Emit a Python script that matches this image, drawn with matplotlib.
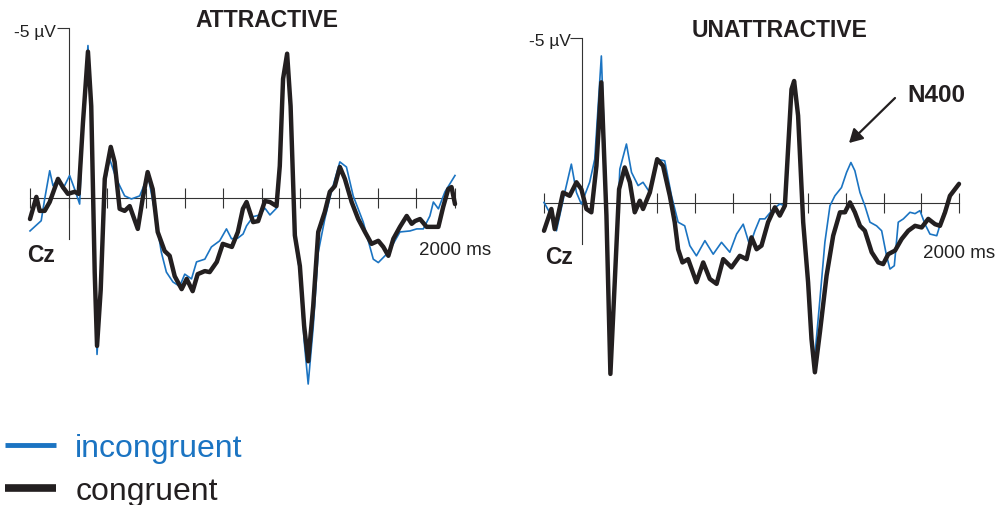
import matplotlib
matplotlib.use('Agg')
import matplotlib.pyplot as plt

plt.rcParams['font.family'] = ['Liberation Sans', 'DejaVu Sans']

W, H = 996, 506

# time (ms) and amplitude (uV, negative up)
att_con_t = [-200, -167, -150, -124, -98, -55, -30, -4, 31, 52, 74, 100, 117, 135, 147, 166, 187, 218, 238, 264,
             290, 316, 358, 383, 409, 435, 461, 497, 523, 549, 585, 611, 642, 668, 705, 730, 767, 798, 845, 876,
             902, 921, 955, 981, 1016, 1042, 1076, 1093, 1110, 1131, 1149, 1171, 1197, 1219, 1240, 1266, 1292, 1326, 1352, 1378,
             1404, 1430, 1465, 1499, 1534, 1568, 1603, 1629, 1655, 1681, 1715, 1750, 1776, 1793, 1819, 1853, 1914, 1939, 1965, 1982,
             2000]
att_con_v = [0.62, -0.03, 0.38, 0.38, 0.12, -0.56, -0.32, -0.12, -0.18, -0.12, -2.2, -4.3, -2.7, 2.2, 4.35, 2.7, -0.56, -1.5, -1.06, 0.32,
             0.38, 0.24, 0.91, 0.03, -0.76, -0.26, 1.0, 1.56, 1.7, 2.3, 2.68, 2.38, 2.74, 2.24, 2.15, 2.18, 1.88, 1.35, 1.44, 1.0,
             0.32, 0.12, 0.71, 0.68, 0.09, 0.12, 0.24, -0.94, -3.5, -4.24, -2.7, 1.1, 2.0, 3.76, 4.8, 3.18, 1.0, 0.41, -0.18, -0.35,
             -0.91, -0.56, 0.12, 0.62, 1.0, 1.35, 1.26, 1.44, 1.7, 1.2, 0.85, 0.53, 0.76, 0.68, 0.62, 0.85, 0.85, 0.26, -0.26, -0.32,
             0.18]

att_inc_t = [-200, -142, -124, -98, -81, -55, -30, 5, 31, 57, 74, 100, 117, 135, 147, 166, 187, 212, 247, 290,
             325, 368, 411, 446, 480, 506, 540, 575, 601, 636, 662, 705, 739, 782, 817, 843, 876, 903, 921, 955,
             990, 1016, 1042, 1076, 1093, 1110, 1131, 1149, 1171, 1197, 1219, 1240, 1266, 1292, 1326, 1360, 1404, 1438, 1473, 1525,
             1551, 1577, 1603, 1629, 1655, 1715, 1767, 1802, 1836, 1870, 1888, 1914, 1948, 2000]
att_inc_v = [0.97, 0.67, 0.03, -0.8, -0.36, -0.56, -0.26, -0.66, -0.26, 0.18, -2.3, -4.48, -2.7, 2.3, 4.6, 2.7, -0.4, -1.15, -0.56, -0.06,
             0.03, -0.06, -0.66, 0.41, 1.6, 2.18, 2.47, 2.6, 2.24, 2.38, 1.88, 1.8, 1.44, 1.26, 0.91, 1.2, 1.18, 1.06, 0.82, 0.55,
             0.5, 0.3, 0.5, 0.3, -0.94, -3.5, -4.24, -2.7, 1.2, 2.2, 4.2, 5.47, 3.8, 1.6, 0.62, -0.18, -1.06, -0.91, -0.06, 0.71,
             1.26, 1.8, 1.9, 1.75, 1.6, 1.0, 0.97, 0.91, 0.91, 0.53, 0.12, 0.32, -0.18, -0.66]

una_con_t = [-200, -161, -143, -126, -99, -64, -28, -2, 25, 51, 78, 104, 131, 152, 175, 198, 228, 255, 281, 308,
             325, 361, 400, 431, 467, 493, 511, 534, 564, 608, 644, 679, 715, 750, 794, 838, 874, 900, 927, 953,
             988, 1024, 1050, 1077, 1094, 1112, 1126, 1147, 1174, 1200, 1218, 1236, 1263, 1298, 1333, 1369, 1395, 1422, 1448, 1475,
             1501, 1537, 1572, 1598, 1625, 1661, 1696, 1731, 1767, 1802, 1837, 1873, 1899, 1926, 1952, 2000]
una_con_v = [0.84, 0.18, 0.79, 0.38, -0.32, -0.22, -0.63, -0.42, 0.18, 0.28, -1.13, -3.66, 0.38, 5.18, 2.4, -0.42, -1.08, -0.63, 0.28, -0.07,
             0.18, -0.32, -1.33, -1.13, -0.22, 0.58, 1.4, 1.8, 1.7, 2.4, 1.8, 2.3, 2.45, 1.7, 1.95, 1.6, 1.7, 1.04, 1.4, 1.29,
             0.58, 0.13, 0.38, 0.08, -1.64, -3.45, -3.7, -2.65, 0.58, 2.4, 4.12, 5.13, 3.9, 2.2, 0.99, 0.28, 0.28, -0.02, 0.28, 0.69,
             0.84, 1.49, 1.8, 1.85, 1.55, 1.44, 1.09, 0.84, 0.69, 0.74, 0.48, 0.64, 0.69, 0.28, -0.22, -0.58]

una_inc_t = [-200, -161, -134, -90, -55, -28, -2, 42, 69, 104, 131, 152, 175, 202, 237, 264, 299, 325, 361, 400,
             440, 476, 511, 546, 573, 608, 653, 697, 741, 785, 821, 856, 891, 918, 944, 971, 1015, 1050, 1077, 1094,
             1112, 1126, 1147, 1174, 1200, 1218, 1232, 1263, 1289, 1316, 1342, 1377, 1404, 1427, 1448, 1475, 1501, 1528, 1563, 1590,
             1616, 1634, 1657, 1678, 1705, 1740, 1767, 1793, 1820, 1846, 1882, 1917, 1952, 2000]
una_inc_v = [-0.02, 0.38, 0.84, -0.32, -1.18, -0.32, 0.03, -0.63, -1.33, -4.46, -0.1, 4.6, 2.4, -1.03, -1.79, -0.93, -0.53, -0.63, -0.32, -1.33,
             -1.28, -0.22, 0.58, 0.69, 1.29, 1.6, 1.14, 1.55, 1.19, 1.49, 0.94, 0.64, 1.29, 0.84, 0.48, 0.48, 0.18, 0.03, 0.08, -1.64,
             -3.45, -3.7, -2.65, 0.58, 2.4, 4.12, 4.88, 2.9, 1.19, 0.08, -0.22, -0.47, -0.93, -1.23, -0.98, -0.32, 0.08, 0.58, 0.69, 0.84,
             1.6, 2.0, 1.9, 0.58, 0.48, 0.28, 0.32, 0.23, 0.64, 0.94, 0.99, 0.33, -0.22, -0.62]

x_ticks = list(range(-200, 2001, 200))
BLUE = '#1b74c2'
BLACK = '#231f20'
AXC = '#333333'


def fx(px):
    return px / W


def fy(py):
    return 1 - py / H


def erp_axes(fig, left_px, right_px, ylim, ybottom):
    ax = fig.add_axes([fx(left_px), fy(400), (right_px - left_px) / W, 380 / H])
    ax.set_xlim(-200, 2000)
    ax.set_ylim(*ylim)
    for s in ['top', 'right']:
        ax.spines[s].set_visible(False)
    ax.spines['left'].set_position(('data', 0))
    ax.spines['bottom'].set_position(('data', 0))
    ax.spines['left'].set_bounds(-5, ybottom)
    ax.spines['bottom'].set_bounds(-200, 2000)
    for s in ['left', 'bottom']:
        ax.spines[s].set_color(AXC)
        ax.spines[s].set_linewidth(0.8)
    ax.set_xticks(x_ticks)
    ax.set_xticklabels([])
    ax.tick_params(axis='x', direction='inout', length=14.5, width=0.8, color=AXC)
    ax.set_yticks([-5])
    ax.set_yticklabels([])
    ax.tick_params(axis='y', direction='out', length=8.5, width=0.8, color=AXC)
    ax.patch.set_visible(False)
    return ax


fig = plt.figure(figsize=(W / 100, H / 100), dpi=100)

ax1 = erp_axes(fig, 30, 455, (5.91, -5.26), 1.2)
ax1.plot(att_inc_t, att_inc_v, color=BLUE, lw=1.2, clip_on=False, zorder=3)
ax1.plot(att_con_t, att_con_v, color=BLACK, lw=3.2, clip_on=False, zorder=4,
         solid_joinstyle='round', solid_capstyle='round')

ax2 = erp_axes(fig, 544, 959, (5.94, -5.58), 1.24)
h_inc, = ax2.plot(una_inc_t, una_inc_v, color=BLUE, lw=1.2, clip_on=False, zorder=3)
h_con, = ax2.plot(una_con_t, una_con_v, color=BLACK, lw=3.2, clip_on=False, zorder=4,
                  solid_joinstyle='round', solid_capstyle='round')

# titles and labels
fig.text(fx(267), fy(27), 'ATTRACTIVE', ha='center', va='baseline',
         fontsize=16.5, fontweight='bold', color=BLACK)
fig.text(fx(780), fy(37), 'UNATTRACTIVE', ha='center', va='baseline',
         fontsize=16.5, fontweight='bold', color=BLACK)

fig.text(fx(56), fy(37), '-5 \u00b5V', ha='right', va='baseline', fontsize=12.5, color='#222222')
fig.text(fx(571), fy(46), '-5 \u00b5V', ha='right', va='baseline', fontsize=12.5, color='#222222')

fig.text(fx(27), fy(262), 'Cz', ha='left', va='baseline', fontsize=16.5, fontweight='bold', color=BLACK)
fig.text(fx(545), fy(264), 'Cz', ha='left', va='baseline', fontsize=16.5, fontweight='bold', color=BLACK)

fig.text(fx(419), fy(255), '2000 ms', ha='left', va='baseline', fontsize=13.5, color='#222222')
fig.text(fx(923), fy(258), '2000 ms', ha='left', va='baseline', fontsize=13.5, color='#222222')

fig.text(fx(907), fy(102), 'N400', ha='left', va='baseline', fontsize=17.5, fontweight='bold', color=BLACK)
fig.add_artist(matplotlib.patches.FancyArrowPatch(
    (fx(895), fy(99)), (fx(849), fy(144)), transform=fig.transFigure,
    arrowstyle='-|>,head_length=8,head_width=4.5', lw=1.6, color=BLACK,
    shrinkA=0, shrinkB=0))

leg = fig.legend([h_inc, h_con], ['incongruent', 'congruent'], loc='upper left',
                 bbox_to_anchor=(fx(5), fy(434)), frameon=False, fontsize=23,
                 handlelength=1.6, handletextpad=0.6, labelspacing=0.42,
                 borderpad=0, borderaxespad=0)
for txt, c in zip(leg.get_texts(), [BLUE, BLACK]):
    txt.set_color(c)
for ln, w in zip(leg.get_lines(), [3.5, 5.5]):
    ln.set_solid_capstyle('butt')
    ln.set_linewidth(w)

fig.savefig('out.png', dpi=100)
